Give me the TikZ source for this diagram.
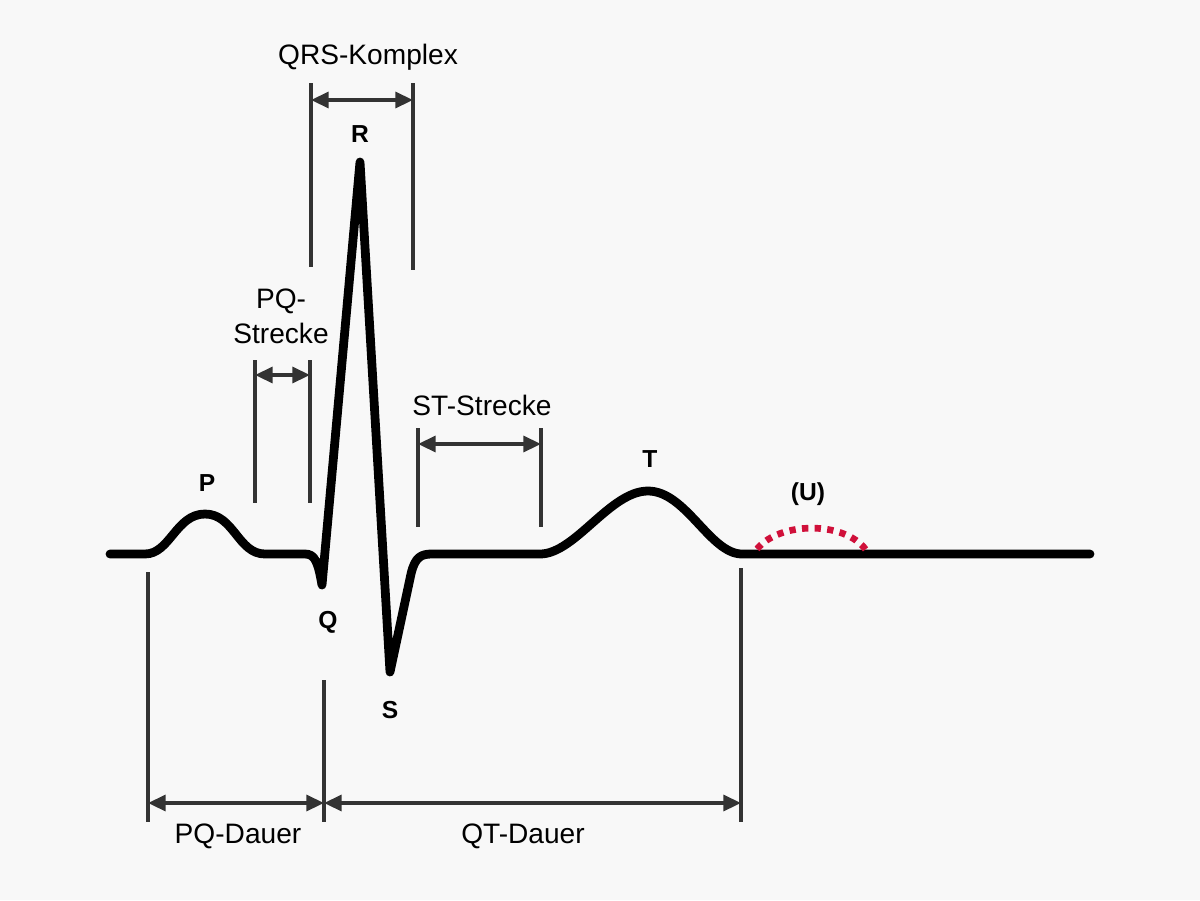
\documentclass[tikz,border=0pt]{standalone}
\usepackage{fontspec}
\setmainfont{Liberation Sans}
\usetikzlibrary{arrows.meta}
\definecolor{bggray}{HTML}{F8F8F8}
\definecolor{dimgray}{HTML}{333333}
\definecolor{ured}{HTML}{D0103A}
\begin{document}
\begin{tikzpicture}[x=0.02cm, y=-0.02cm]
	\tikzset{
	    ecg/.style= {line width=5pt, black, line join=round, line cap=round},
	    guide/.style= {line width=2pt, dimgray},
	    span/.style= {line width=2pt, dimgray, {Triangle[length=10pt,width=9pt]}-{Triangle[length=10pt,width=9pt]}},
	    wave/.style= {font=\bfseries\fontsize{14}{16}\selectfont},
	    dlabel/.style= {font=\fontsize{16}{20}\selectfont, align=center},
	}
	\fill[bggray] (0,0) rectangle (1200,900);
	\useasboundingbox (0,0) rectangle (1200,900);
	
	% ECG curve
	\draw[ecg] (110,554) -- (145,554)
	.. controls (170,554) and (176,514) .. (205,514)
	.. controls (234,514) and (238,554) .. (265,554)
	-- (305,554) .. controls (315,554) and (318,562) .. (322,585)
	-- (360,162) -- (390,672)
	-- (411,574) .. controls (415,557) and (421,554) .. (432,554)
	-- (540,554) .. controls (575,554) and (610,491) .. (648,491)
	.. controls (686,491) and (710,554) .. (742,554)
	-- (1090,554);
	\draw[ured, line width=3.8pt, dash pattern=on 3.6pt off 3.6pt]
	(757,549) .. controls (780,521) and (845,521) .. (866,550);
	
	% wave labels
	\node[wave] (P) at (207,483) {P};
	\node[wave] (Q) at (328,622) {Q};
	\node[wave] (R) at (360,134) {R};
	\node[wave] (S) at (390,710) {S};
	\node[wave] (T) at (650,459) {T};
	\node[wave] (U) at (808,494) {(U)};
	
	% segment labels
	\node[dlabel] (qrs) at (368,57) {QRS-Komplex};
	\node[dlabel] (pqs) at (281,316) {PQ-\\Strecke};
	\node[dlabel] (sts) at (482,405) {ST-Strecke};
	\node[dlabel] (pqd) at (238,836) {PQ-Dauer};
	\node[dlabel] (qtd) at (523,836) {QT-Dauer};
	
	% guide lines
	\draw[guide] (311,83) -- (311,267);
	\draw[guide] (413,83) -- (413,270);
	\draw[guide] (255,360) -- (255,503);
	\draw[guide] (310,360) -- (310,503);
	\draw[guide] (418,428) -- (418,527);
	\draw[guide] (541,428) -- (541,527);
	\draw[guide] (148,572) -- (148,822);
	\draw[guide] (324,680) -- (324,822);
	\draw[guide] (741,568) -- (741,822);
	
	% spans
	\coordinate (qrsL) at (311,100);
	\coordinate (qrsR) at (413,100);
	\coordinate (pqsL) at (255,375);
	\coordinate (pqsR) at (310,375);
	\coordinate (stsL) at (418,444);
	\coordinate (stsR) at (541,444);
	\coordinate (pqdL) at (148,803);
	\coordinate (pqdR) at (324,803);
	\coordinate (qtdR) at (741,803);
	
	\draw[span] (qrsL) -- (qrsR);
	\draw[span] (pqsL) -- (pqsR);
	\draw[span] (stsL) -- (stsR);
	\draw[span] (pqdL) -- (pqdR);
	\draw[span] (pqdR) -- (qtdR);
\end{tikzpicture}
\end{document}
